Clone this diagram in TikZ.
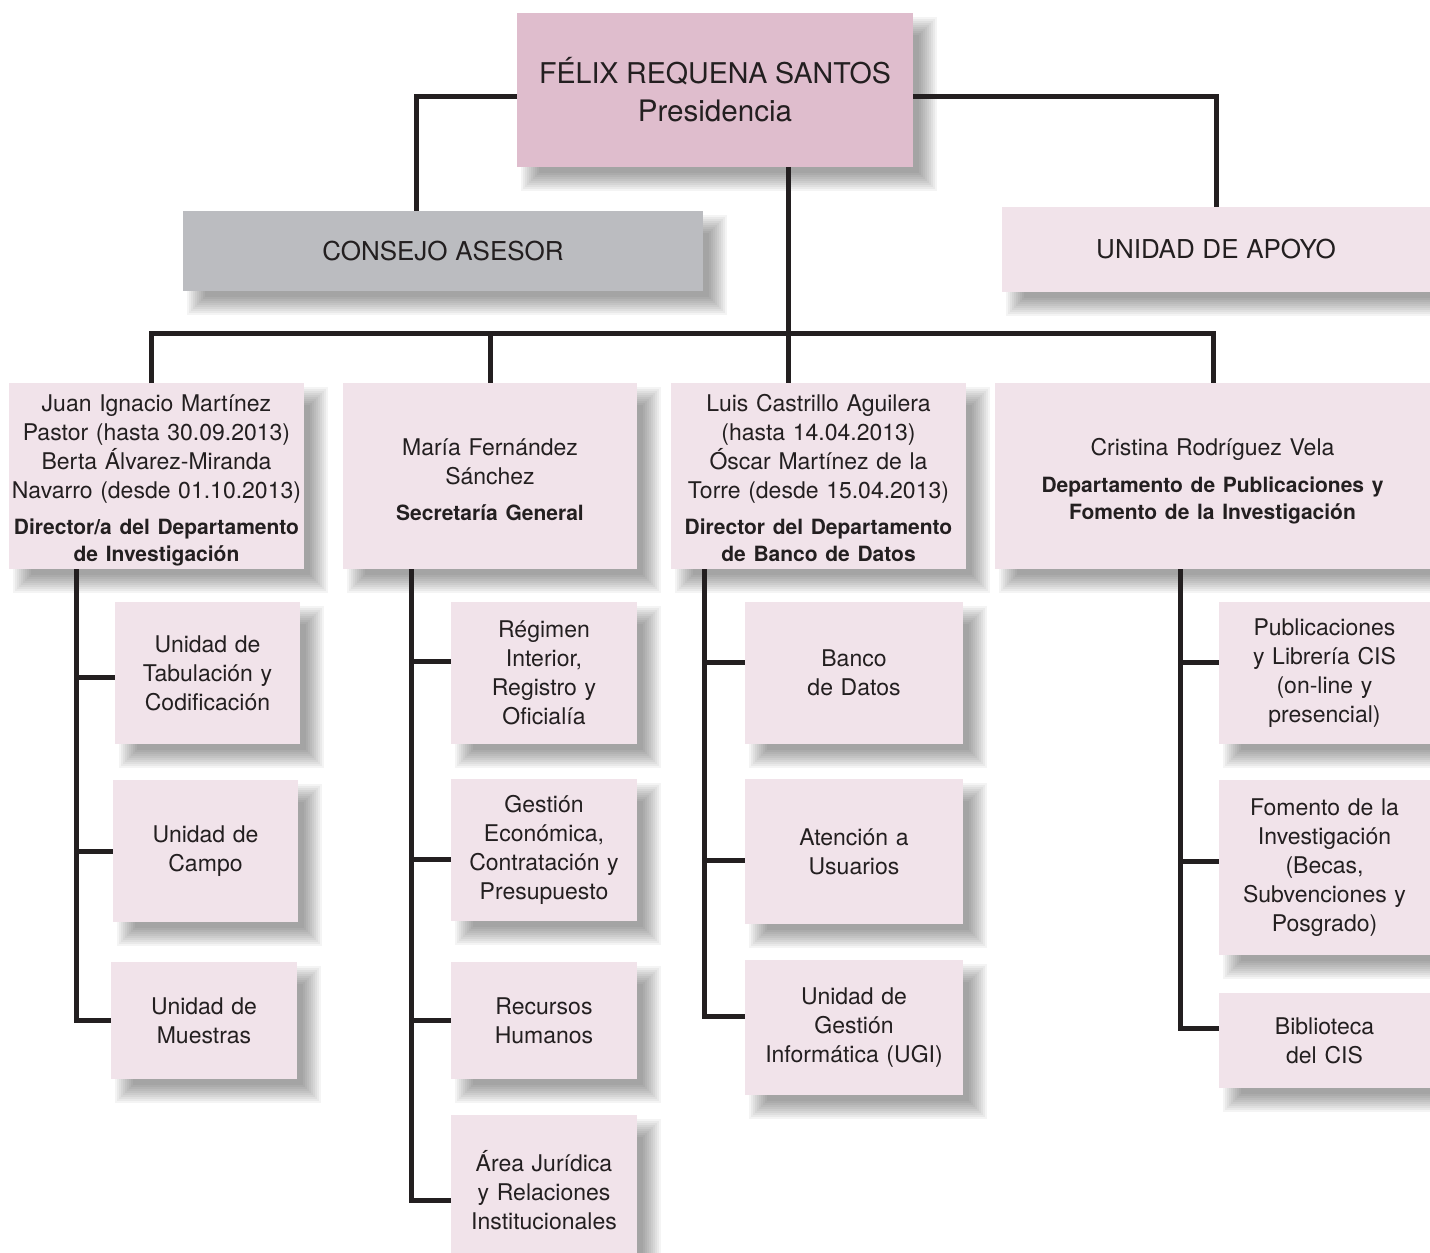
\documentclass[tikz,border=0pt]{standalone}
\usepackage{fontspec}
\setmainfont{TeX Gyre Heros}
\usetikzlibrary{calc}
\definecolor{linec}{HTML}{231F20}
\definecolor{topc}{HTML}{DFBDCD}
\definecolor{grayc}{HTML}{BBBCC0}
\definecolor{pinkc}{HTML}{F1E3EA}
\pgfdeclarelayer{shadow}
\pgfsetlayers{shadow,main}
\tikzset{
  boxbase/.style={inner sep=0pt, outer sep=0pt, draw=none},
  toppink/.style={boxbase, fill=topc},
  graybox/.style={boxbase, fill=grayc},
  pinkbox/.style={boxbase, fill=pinkc},
  txt/.style={text=linec, align=center, text width=9cm, inner sep=0pt, font=\fontsize{11.5}{14.5}\selectfont},
  conn/.style={draw=linec, line width=2.5pt},
}
\newcommand{\bsm}{\fontsize{10.5}{13.5}\selectfont\bfseries}
\newcommand{\orgbox}[8][]{%
  \node[#7, minimum width={(#5-#3)*0.5pt}, minimum height={(#6-#4)*0.5pt}] (#2) at ({(#3+#5)/2},{(#4+#6)/2}) {};
  \begin{pgfonlayer}{shadow}
    \foreach \k in {0,...,9} {
      \fill[black, opacity=0.042] ($(#2.north west)+(4+2*\k,4+2*\k)$) rectangle ($(#2.south east)+(24-2*\k,24-2*\k)$);
    }
  \end{pgfonlayer}
  \node[txt,#1] (#2t) at (#2.center) {#8};
}
\begin{document}
\begin{tikzpicture}[x=0.5pt,y=-0.5pt]
\useasboundingbox (0,0) rectangle (1430,1253);

\orgbox{top}{517}{13}{913}{167}{toppink}{\fontsize{14.3}{19}\selectfont FÉLIX REQUENA SANTOS\\{\fontsize{14.8}{19}\selectfont Presidencia}\par}
\orgbox{cons}{183}{211}{703}{291}{graybox}{\fontsize{13}{16}\selectfont CONSEJO ASESOR\par}
\orgbox{apoyo}{1002}{207}{1430}{292}{pinkbox}{\fontsize{13}{16}\selectfont UNIDAD DE APOYO\par}

\orgbox[yshift=-2pt]{d1}{9}{383}{304}{569}{pinkbox}{Juan Ignacio Martínez\\Pastor (hasta 30.09.2013)\\Berta Álvarez-Miranda\\Navarro (desde 01.10.2013)\par\vspace{4.5pt}{\bsm Director/a del Departamento\\de Investigación\par}}
\orgbox[yshift=-2pt]{d2}{343}{383}{637}{569}{pinkbox}{María Fernández\\Sánchez\par\vspace{4.5pt}{\bsm Secretaría General\par}}
\orgbox[yshift=-1pt]{d3}{671}{383}{966}{569}{pinkbox}{Luis Castrillo Aguilera\\(hasta 14.04.2013)\\Óscar Martínez de la\\Torre (desde 15.04.2013)\par\vspace{4.5pt}{\bsm Director del Departamento\\de Banco de Datos\par}}
\orgbox[yshift=-2.5pt]{d4}{995}{383}{1430}{569}{pinkbox}{Cristina Rodríguez Vela\par\vspace{5pt}{\bsm Departamento de Publicaciones y\\Fomento de la Investigación\par}}

\orgbox{s11}{115}{602}{300}{744}{pinkbox}{Unidad de\\Tabulación y\\Codificación}
\orgbox{s12}{113}{780}{298}{922}{pinkbox}{Unidad de\\Campo}
\orgbox{s13}{111}{962}{297}{1079}{pinkbox}{Unidad de\\Muestras}

\orgbox{s21}{451}{602}{637}{744}{pinkbox}{Régimen\\Interior,\\Registro y\\Oficialía}
\orgbox{s22}{451}{779}{637}{921}{pinkbox}{Gestión\\Económica,\\Contratación y\\Presupuesto}
\orgbox{s23}{451}{962}{637}{1079}{pinkbox}{Recursos\\Humanos}
\orgbox{s24}{451}{1115}{637}{1265}{pinkbox}{Área Jurídica\\y Relaciones\\Institucionales}

\orgbox{s31}{745}{602}{963}{744}{pinkbox}{Banco\\de Datos}
\orgbox{s32}{745}{779}{963}{924}{pinkbox}{Atención a\\Usuarios}
\orgbox{s33}{745}{960}{963}{1095}{pinkbox}{Unidad de\\Gestión\\Informática (UGI)}

\orgbox{s41}{1219}{602}{1430}{744}{pinkbox}{Publicaciones\\y Librería CIS\\(on-line y\\presencial)}
\orgbox{s42}{1219}{780}{1430}{955}{pinkbox}{Fomento de la\\Investigación\\(Becas,\\Subvenciones y\\Posgrado)}
\orgbox{s43}{1219}{993}{1430}{1088}{pinkbox}{Biblioteca\\del CIS}

% top connectors
\draw[conn] ([yshift=-3pt]top.west) -| ([xshift=-13.5pt]cons.north);
\draw[conn] ([yshift=-3pt]top.east) -| (apoyo.north);
\coordinate (barL) at (151,333);
\coordinate (barR) at (1213,333);
\draw[conn] (barL |- d1.north) -- (barL) -- (barR) -- (barR |- d4.north);
\draw[conn] ([xshift=36.5pt]top.south) -- ([xshift=36.5pt]top.south |- d3.north);
\draw[conn] (d2.north |- barL) -- (d2.north);

% column 1
\coordinate (c1) at ([xshift=-40.25pt]d1.south);
\coordinate (b11) at ([yshift=-2pt]s11.west);
\draw[conn] (c1) |- (s13.west);
\draw[conn] (c1 |- b11) -- (b11);
\draw[conn] (c1 |- s12.west) -- (s12.west);

% column 2
\coordinate (c2) at ([xshift=-39.5pt]d2.south);
\coordinate (b21) at ([yshift=6pt]s21.west);
\coordinate (b22) at ([yshift=-4.5pt]s22.west);
\coordinate (b24) at ([yshift=-5pt]s24.west);
\draw[conn] (c2) |- (b24);
\draw[conn] (c2 |- b21) -- (b21);
\draw[conn] (c2 |- b22) -- (b22);
\draw[conn] (c2 |- s23.west) -- (s23.west);

% column 3
\coordinate (c3) at ([xshift=-57.25pt]d3.south);
\coordinate (b31) at ([yshift=5.5pt]s31.west);
\coordinate (b32) at ([yshift=-4.25pt]s32.west);
\coordinate (b33) at ([yshift=5.75pt]s33.west);
\draw[conn] (c3) |- (b33);
\draw[conn] (c3 |- b31) -- (b31);
\draw[conn] (c3 |- b32) -- (b32);

% column 4
\coordinate (c4) at ([xshift=-16.25pt]d4.south);
\coordinate (b41) at ([yshift=5.5pt]s41.west);
\coordinate (b42) at ([yshift=3.25pt]s42.west);
\coordinate (b43) at ([yshift=6.25pt]s43.west);
\draw[conn] (c4) |- (b43);
\draw[conn] (c4 |- b41) -- (b41);
\draw[conn] (c4 |- b42) -- (b42);
\end{tikzpicture}
\end{document}
